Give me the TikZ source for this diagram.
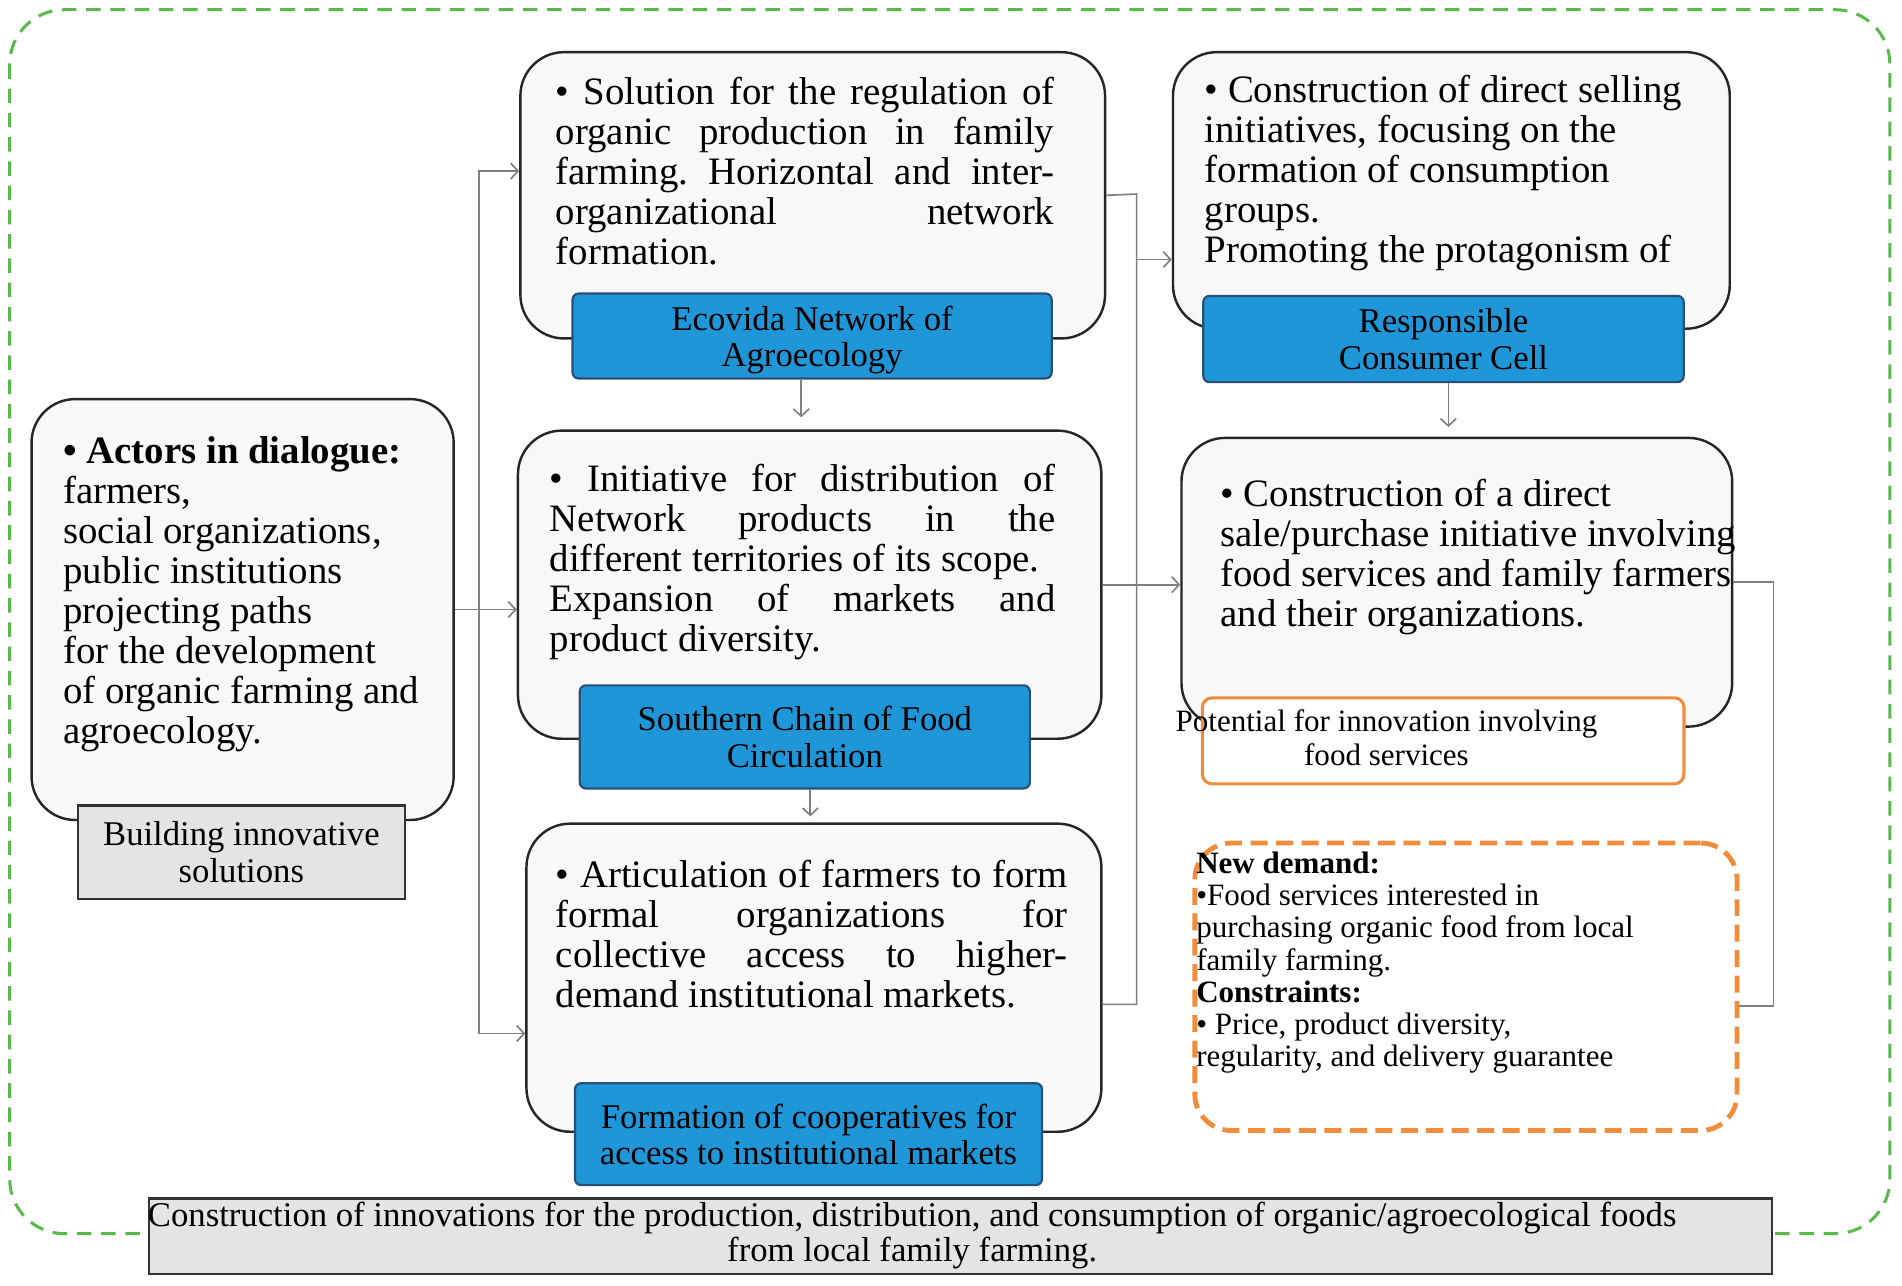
\documentclass[tikz,border=0pt]{standalone}
\usepackage{fontspec}
\setmainfont{Liberation Serif}
\usepackage{xcolor}
\usetikzlibrary{arrows.meta}
\frenchspacing

\definecolor{cellblue}{RGB}{30,150,215}
\definecolor{celledge}{RGB}{40,80,120}
\definecolor{panelfill}{RGB}{248,248,248}
\definecolor{labelgray}{RGB}{228,228,228}
\definecolor{frameorange}{RGB}{240,140,60}
\definecolor{framegreen}{RGB}{90,185,75}
\definecolor{linkgray}{RGB}{128,128,128}

\begin{document}
\begin{tikzpicture}[x=1pt, y=-1pt,
    panel/.style={draw=black!85, line width=2pt, fill=panelfill, rounded corners=36pt, inner sep=0pt, anchor=north west},
    cell/.style={draw=celledge, line width=1.8pt, fill=cellblue, rounded corners=5pt, align=center, inner sep=0pt, text depth=0pt, font=\fontsize{28.6}{30}\selectfont},
    tag/.style={draw=black!80, line width=1.8pt, fill=labelgray, align=center, inner sep=0pt, text depth=0pt, font=\fontsize{28.6}{30}\selectfont},
    body/.style={anchor=north west, inner sep=0pt, font=\fontsize{32}{33}\selectfont, execute at begin node={\parindent=0pt}},
    note/.style={anchor=north west, inner sep=0pt, align=left, font=\fontsize{25.6}{26.6}\selectfont},
    link/.style={draw=linkgray, line width=1.4pt},
    >={Straight Barb[length=6pt,width=13pt]}]
    \useasboundingbox (0,0) rectangle (1568,1060);

    % Outer frame
    \draw[framegreen, line width=2.5pt, dash pattern=on 12pt off 8pt, rounded corners=45pt] (8,8) rectangle (1558,1017);

    % Actors
    \node[panel, minimum width=348pt, minimum height=347pt] (actors) at (25,328) {};
    \node[tag, minimum width=270pt, minimum height=77pt] (building) at (199,702.5) {Building innovative\\solutions};
    \node[body, align=left] (actors text) at (52,359.5) {\textbf{• Actors in dialogue:}\\farmers,\\social organizations,\\public institutions\\projecting paths\\for the development\\of organic farming and\\agroecology.};

    % Middle column
    \node[panel, minimum width=482pt, minimum height=236pt] (regulation) at (428,42) {};
    \node[cell, minimum width=395pt, minimum height=70pt] (ecovida) at (669.5,277) {Ecovida Network of\\Agroecology};
    \node[body, align=justify, text width=411pt] (regulation text) at (458,63.5) {• Solution for the regulation of\linebreak organic production in family\linebreak farming. Horizontal and inter-\linebreak organizational network\linebreak formation.};

    \node[panel, minimum width=481pt, minimum height=254pt] (distribution) at (426,354) {};
    \node[cell, minimum width=371pt, minimum height=85pt] (southern) at (663.5,607.5) {Southern Chain of Food\\Circulation};
    \node[body, align=justify, text width=417pt] (distribution text) at (453,382.5) {• Initiative for distribution of\linebreak Network products in the\linebreak different territories of its scope.\newline Expansion of markets and\linebreak product diversity.};

    \node[panel, minimum width=474pt, minimum height=254pt] (articulation) at (433,678) {};
    \node[cell, minimum width=385pt, minimum height=84pt] (cooperatives) at (666.5,935) {Formation of cooperatives for\\access to institutional markets};
    \node[body, align=justify, text width=422pt] (articulation text) at (458,708.5) {• Articulation of farmers to form\linebreak formal organizations for\linebreak collective access to higher-\linebreak demand institutional markets.};

    % Right column
    \node[panel, minimum width=459pt, minimum height=228pt] (selling) at (966,42) {};
    \node[cell, minimum width=396pt, minimum height=71pt] (consumer) at (1190,279.5) {Responsible\\Consumer Cell};
    \node[body, align=left] (selling text) at (993,61.5) {• Construction of direct selling\\initiatives, focusing on the\\formation of consumption\\groups.\\Promoting the protagonism of};

    \node[panel, minimum width=454pt, minimum height=238pt] (directsale) at (973,360) {};
    \node[body, align=left] (directsale text) at (1006,394.5) {• Construction of a direct\\sale/purchase initiative involving\\food services and family farmers\\and their organizations.};
    \node[draw=frameorange, line width=2.5pt, fill=white, rounded corners=8pt, anchor=north west, minimum width=397pt, minimum height=71pt] (potential) at (990,574) {};
    \node[align=center, inner sep=0pt, font=\fontsize{25.6}{28}\selectfont] (potential text) at (1143,608) {Potential for innovation involving\\food services};

    \node[draw=frameorange, line width=4pt, dash pattern=on 14pt off 7pt, rounded corners=30pt, anchor=north west, minimum width=447pt, minimum height=237pt] (demand) at (983,693) {};
    \node[note] (demand text) at (986,702) {\textbf{New demand:}\\•Food services interested in\\purchasing organic food from local\\family farming.\\\textbf{Constraints:}\\• Price, product diversity,\\regularity, and delivery guarantee};

    % Bottom banner
    \node[tag, minimum width=1338pt, minimum height=62pt] (construction) at (792,1019) {};
    \node[align=center, inner sep=0pt, font=\fontsize{28.6}{29}\selectfont] (construction text) at (752,1018.5) {Construction of innovations for the production, distribution, and consumption of organic/agroecological foods\\from local family farming.};

    % Connectors from the actors
    \coordinate (fork) at (395,501);
    \draw[link,->] (actors.east) -- (actors.east -| distribution.west);
    \draw[link,->] (fork) |- ([yshift=20pt]regulation.west);
    \draw[link,->] (fork) |- ([yshift=-46pt]articulation.west);

    % Connectors down the middle column
    \draw[link,->,shorten >=10pt] ([xshift=-9pt]ecovida.south) -- ([xshift=-9pt]ecovida.south |- distribution.north);
    \draw[link,->,shorten >=5pt] ([xshift=4.5pt]southern.south) -- ([xshift=4.5pt]southern.south |- articulation.north);
    \draw[link,->,shorten >=8pt] ([xshift=4pt]consumer.south) -- ([xshift=4pt]consumer.south |- directsale.north);

    % Connectors to the right column
    \coordinate (merge) at (937,160);
    \draw[link] (regulation.east) -- (merge) |- ([yshift=-22pt]articulation.east);
    \draw[link,->] ([yshift=-57pt]selling.west -| merge) -- ([yshift=-57pt]selling.west);
    \draw[link,->] (distribution.east) -- (distribution.east -| directsale.west);

    % Loop to the new demand
    \coordinate (loop) at (1462,483);
    \draw[link] (directsale.east) -- (directsale.east -| loop) |- ([yshift=-16pt]demand.east);
\end{tikzpicture}
\end{document}
